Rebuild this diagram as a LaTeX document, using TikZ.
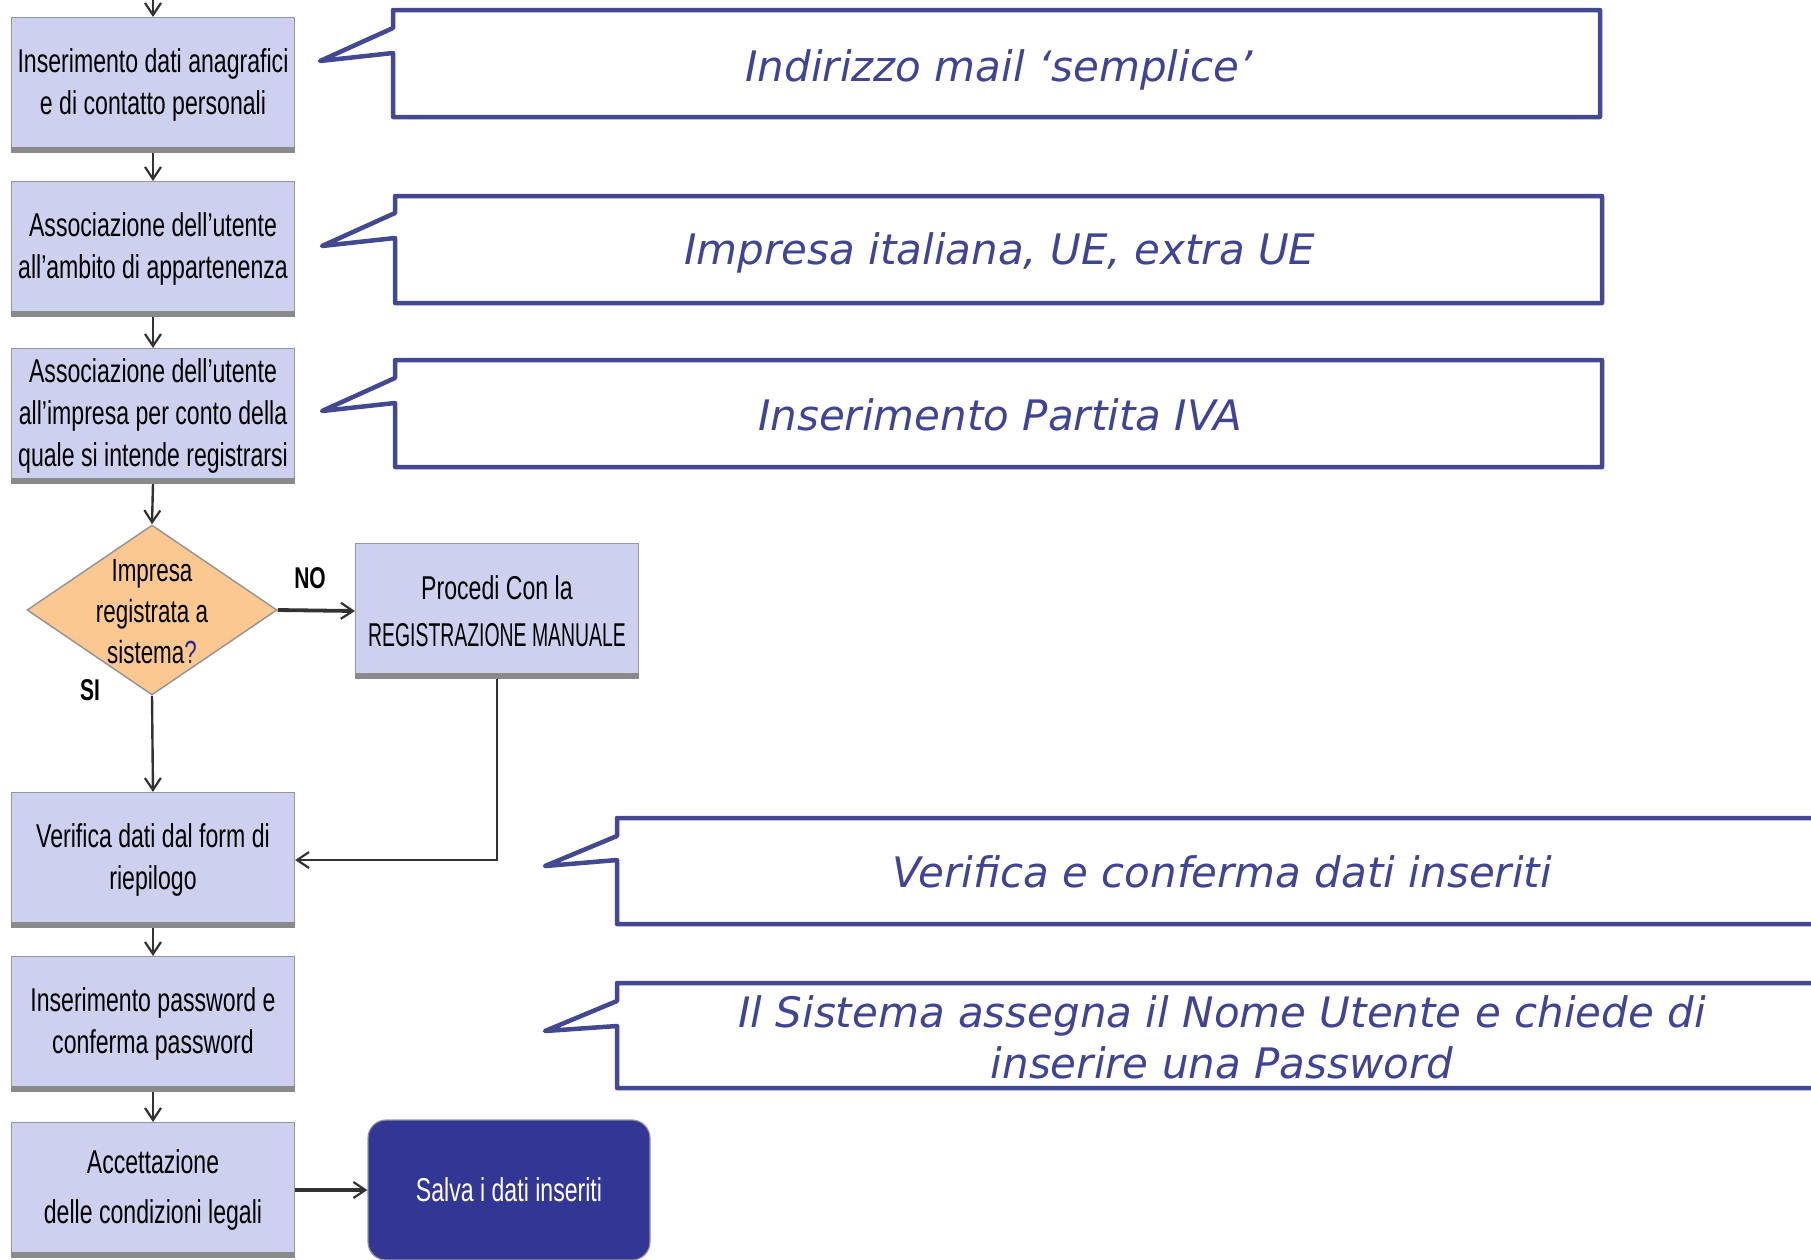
\documentclass[tikz,border=0pt]{standalone}
\usepackage{fontspec}
\usepackage{graphicx}
\usetikzlibrary{arrows.meta,shapes.geometric,calc}
\newfontfamily\boxfont[FakeStretch=0.7]{Liberation Sans}
\newfontfamily\callfont{DejaVu Sans}
\definecolor{boxfill}{RGB}{206,208,240}
\definecolor{boxline}{RGB}{150,150,150}
\definecolor{shadowcol}{RGB}{138,138,138}
\definecolor{diafill}{RGB}{252,200,145}
\definecolor{salvafill}{RGB}{52,54,150}
\definecolor{callcol}{RGB}{66,72,145}
\definecolor{calltext}{RGB}{63,68,148}
\definecolor{arrcol}{RGB}{50,50,50}
\definecolor{qcol}{RGB}{40,40,140}
\begin{document}
\begin{tikzpicture}[x=1pt,y=-1pt,
  flowbox/.style={rectangle,draw=boxline,line width=1.2pt,fill=boxfill,
    minimum width=283pt,minimum height=135pt,inner sep=2pt,align=center,
    font=\boxfont\fontsize{33}{42}\selectfont},
  diabox/.style={diamond,draw=boxline,line width=1.5pt,fill=diafill,
    minimum width=250pt,minimum height=170pt,inner sep=0pt},
  savebox/.style={rectangle,rounded corners=18pt,draw=boxline,line width=1.2pt,
    fill=salvafill,text=white,minimum width=282pt,minimum height=140pt,align=center,
    font=\boxfont\fontsize{33}{42}\selectfont},
  arr/.style={draw=arrcol,line width=2.4pt,-{Straight Barb[length=12pt,width=16pt,line width=2.2pt]}},
  thickarr/.style={arr,line width=3.8pt},
  lbl/.style={font=\boxfont\bfseries\fontsize{30}{36}\selectfont},
  callout/.style={draw=callcol,line width=4.5pt,line join=round,fill=white},
  calltxt/.style={text=calltext,align=center,font=\callfont\itshape\fontsize{42}{51}\selectfont}
]
\useasboundingbox (0,0) rectangle (1811,1259);

% callout shapes
\draw[callout] (393,10) -- (1600,10) -- (1600,117) -- (393,117) -- (393,53) -- (320,61) -- (393,28) -- cycle;
\draw[callout] (395,196) -- (1602,196) -- (1602,303) -- (395,303) -- (395,238) -- (322,246) -- (395,213) -- cycle;
\draw[callout] (395,360) -- (1602,360) -- (1602,467) -- (395,467) -- (395,403) -- (322,411) -- (395,378) -- cycle;
\draw[callout] (1830,818) -- (617,818) -- (617,836) -- (545,866) -- (617,860) -- (617,924) -- (1830,924);
\draw[callout] (1830,983) -- (617,983) -- (617,1001) -- (545,1031) -- (617,1026) -- (617,1088) -- (1830,1088);

\node[calltxt] (c1) at (999,70) {Indirizzo mail ‘semplice’};
\node[calltxt] (c2) at (1000,253) {Impresa italiana, UE, extra UE};
\node[calltxt] (c3) at (1000,415) {Inserimento Partita IVA};
\node[calltxt] (c4) at (1222,872) {Verifica e conferma dati inseriti};
\node[calltxt] (c5) at (1222,1037) {Il Sistema assegna il Nome Utente e chiede di\\inserire una Password};

% flow nodes
\node[flowbox] (b1) at (153,85) {Inserimento dati anagrafici\\e di contatto personali};
\node[flowbox] (b2) at (153,249) {Associazione dell’utente\\all’ambito di appartenenza};
\node[flowbox] (b3) at (153,416) {Associazione dell’utente\\all’impresa per conto della\\quale si intende registrarsi};
\node[diabox] (dia) at (152,610) {};
\node[align=center,font=\boxfont\fontsize{32}{41}\selectfont] (diat) at (152,612) {Impresa\\registrata a\\sistema\textcolor{qcol}{?}};
\node[flowbox] (proc) at (497,611) {Procedi Con la\\[5pt]\scalebox{0.84}[1]{REGISTRAZIONE MANUALE}};
\node[flowbox] (ver) at (153,860) {Verifica dati dal form di\\riepilogo};
\node[flowbox] (pw) at (153,1024) {Inserimento password e\\conferma password};
\node[flowbox] (acc) at (153,1190) {Accettazione\\[8pt]delle condizioni legali};
\node[savebox] (salva) at (509,1190) {Salva i dati inseriti};

% bottom shadows
\foreach \n in {b1,b2,b3,proc,ver,pw,acc}{
  \fill[shadowcol] (\n.south west) rectangle ([yshift=6pt]\n.south east);
}

% connectors
\coordinate (start) at (153,-2);
\draw[arr] (start) -- (b1.north);
\draw[arr] (b1.south) -- (b2.north);
\draw[arr] (b2.south) -- (b3.north);
\draw[arr] (b3.south) -- (dia.north);
\draw[arr] (dia.south) -- (ver.north);
\draw[thickarr] (dia.east) -- (proc.west);
\draw[arr] (proc.south) |- (ver.east);
\draw[arr] (ver.south) -- (pw.north);
\draw[arr] (pw.south) -- (acc.north);
\draw[thickarr] (acc.east) -- (salva.west);

\node[lbl] (no) at (310,578) {NO};
\node[lbl] (si) at (90,690) {SI};
\end{tikzpicture}
\end{document}
